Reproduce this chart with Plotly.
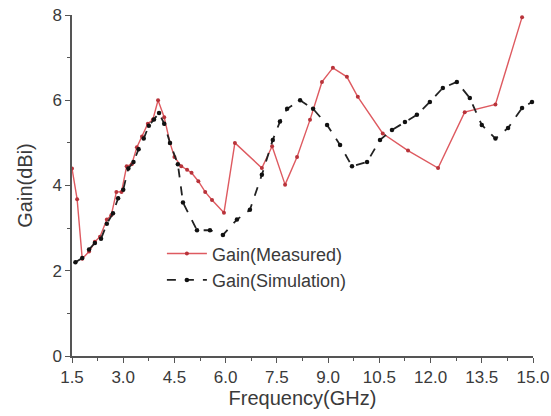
import plotly.graph_objects as go

meas_freq = [1.5, 1.65, 1.8, 2.0, 2.17, 2.32, 2.52, 2.65, 2.8, 2.95, 3.1, 3.25, 3.4, 3.55, 3.72, 3.87,
             4.02, 4.2, 4.37, 4.5, 4.7, 4.87, 5.0, 5.2, 5.4, 5.6, 5.95, 6.27, 7.06, 7.36, 7.74,
             8.09, 8.47, 8.82, 9.14, 9.55, 9.87, 10.6, 11.34, 12.22, 13.0, 13.9, 14.68]
meas_gain = [4.4, 3.68, 2.28, 2.45, 2.68, 2.8, 3.2, 3.3, 3.85, 3.85, 4.45, 4.5, 4.9, 5.15, 5.45, 5.55,
             6.0, 5.6, 5.0, 4.67, 4.45, 4.37, 4.3, 4.1, 3.85, 3.66, 3.36, 5.0, 4.41, 4.92, 4.02,
             4.67, 5.54, 6.43, 6.76, 6.55, 6.08, 5.22, 4.82, 4.41, 5.72, 5.9, 7.95]

sim_freq = [1.6, 1.8, 2.0, 2.17, 2.35, 2.52, 2.7, 2.85, 3.0, 3.15, 3.3, 3.45, 3.6, 3.75, 3.9, 4.05,
            4.2, 4.37, 4.6, 4.75, 5.16, 5.54, 5.92, 6.33, 6.71, 7.06, 7.38, 7.59, 7.8, 8.18, 8.56,
            8.97, 9.35, 9.7, 10.14, 10.52, 10.87, 11.25, 11.6, 11.98, 12.36, 12.77, 13.15, 13.5,
            13.9, 14.27, 14.68, 14.97]
sim_gain = [2.2, 2.3, 2.5, 2.65, 2.75, 3.1, 3.35, 3.7, 3.9, 4.4, 4.55, 4.85, 5.1, 5.4, 5.55, 5.7,
            5.45, 5.0, 4.5, 3.6, 2.95, 2.95, 2.84, 3.2, 3.43, 4.25, 5.07, 5.5, 5.8, 6.0, 5.8,
            5.42, 4.95, 4.45, 4.55, 5.07, 5.3, 5.49, 5.66, 5.96, 6.29, 6.43, 6.05, 5.42,
            5.1, 5.35, 5.82, 5.96]

x_ticks = [1.5, 3.0, 4.5, 6.0, 7.5, 9.0, 10.5, 12.0, 13.5, 15.0]
x_tick_labels = ["1.5", "3.0", "4.5", "6.0", "7.5", "9.0", "10.5", "12.0", "13.5", "15.0"]
y_ticks = [0, 2, 4, 6, 8]

fig = go.Figure()
fig.add_trace(go.Scatter(
    x=meas_freq, y=meas_gain, mode="lines+markers", name="Gain(Measured)",
    line=dict(color="#de5a60", width=1.4),
    marker=dict(color="#b8333a", size=4),
    cliponaxis=False,
))
fig.add_trace(go.Scatter(
    x=sim_freq, y=sim_gain, mode="lines+markers", name="Gain(Simulation)",
    line=dict(color="#222222", width=1.8, dash="dash"),
    marker=dict(color="#111111", size=4.5),
    cliponaxis=False,
))

axis_font = dict(family="Liberation Sans, Arial, sans-serif", size=17, color="#3a3a3a")
fig.update_layout(
    width=551, height=416,
    margin=dict(l=72, r=18, t=15, b=60),
    paper_bgcolor="white", plot_bgcolor="white",
    font=axis_font,
    showlegend=True,
    legend=dict(x=0.195, y=0.354, xanchor="left", yanchor="top",
                bgcolor="rgba(0,0,0,0)", font=dict(size=18, color="#3a3a3a"),
                tracegroupgap=0, itemwidth=40),
    xaxis=dict(
        range=[1.5, 15.0], tickvals=x_ticks, ticktext=x_tick_labels, automargin=False,
        showgrid=False, zeroline=False, showline=True, linecolor="#555555", linewidth=1.5,
        ticks="outside", ticklen=5, tickcolor="#555555", tickwidth=1.2,
        minor=dict(dtick=0.75, ticks="outside", ticklen=3, tickcolor="#555555", showgrid=False),
        title=dict(text="Frequency(GHz)", standoff=5), tickfont=axis_font,
    ),
    yaxis=dict(
        range=[0, 8], tickvals=y_ticks, automargin=False,
        showgrid=False, zeroline=False, showline=True, linecolor="#555555", linewidth=1.5,
        ticks="outside", ticklen=5, tickcolor="#555555", tickwidth=1.2,
        minor=dict(dtick=1, ticks="outside", ticklen=3, tickcolor="#555555", showgrid=False),
        title=dict(text="Gain(dBi)", standoff=14), tickfont=axis_font,
    ),
)

fig.write_html("out.html")
